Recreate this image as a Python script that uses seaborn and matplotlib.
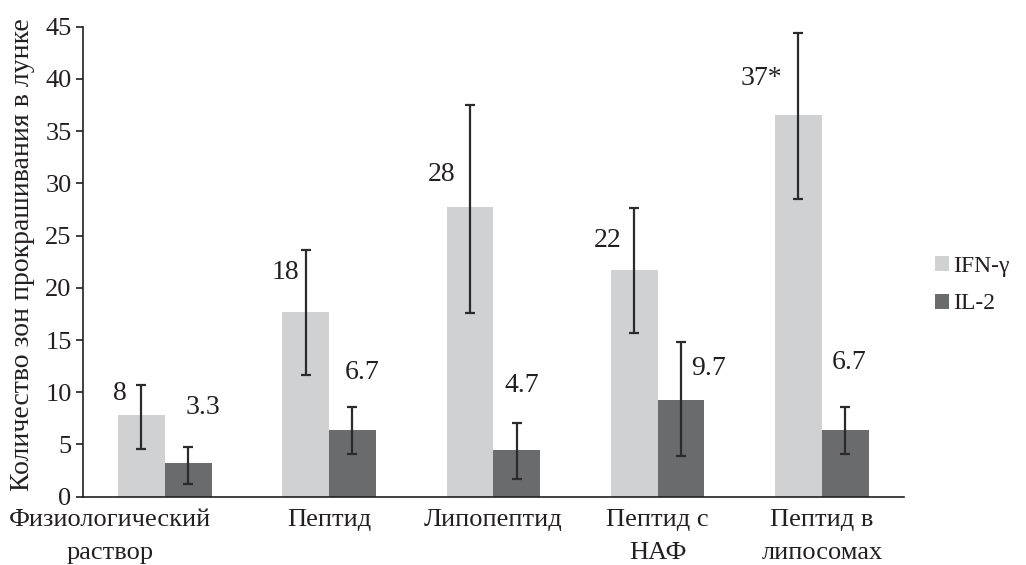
import pandas as pd
import seaborn as sns
import matplotlib.pyplot as plt
from matplotlib.transforms import ScaledTranslation

# Данные
groups = ['Физиологический\nраствор', 'Пептид', 'Липопептид', 'Пептид с\nНАФ', 'Пептид в\nлипосомах']
series = ['IFN-γ', 'IL-2']
ifn = [7.8, 17.7, 27.7, 21.7, 36.5]
il2 = [3.2, 6.4, 4.5, 9.3, 6.4]
ifn_lo = [4.6, 11.7, 17.6, 15.7, 28.5]
ifn_hi = [10.7, 23.6, 37.5, 27.6, 44.4]
il2_lo = [1.2, 4.1, 1.7, 3.9, 4.1]
il2_hi = [4.8, 8.6, 7.1, 14.8, 8.6]
ifn_labels = ['8', '18', '28', '22', '37*']
il2_labels = ['3.3', '6.7', '4.7', '9.7', '6.7']

# Смещения подписей (в пикселях) относительно вершины столбика
ifn_off = [(-22, 22), (-20, 39), (-28, 33), (-27, 30), (-37, 37)]
il2_off = [(15, 56), (10, 57), (5, 64), (27, 31), (4, 67)]

df = pd.DataFrame({
    'Group': groups * 2,
    'Series': [series[0]] * 5 + [series[1]] * 5,
    'Value': ifn + il2,
})

sns.set_style('white')
plt.rcParams['font.family'] = ['Liberation Serif', 'DejaVu Serif']
plt.rcParams['text.color'] = '#231f20'
plt.rcParams['axes.labelcolor'] = '#231f20'
plt.rcParams['xtick.color'] = '#231f20'
plt.rcParams['ytick.color'] = '#231f20'

fig = plt.figure(figsize=(10.26, 5.65), dpi=100)
ax = fig.add_axes([0.0806, 0.1209, 0.8005, 0.8318])

sns.barplot(data=df, x='Group', y='Value', hue='Series', order=groups, hue_order=series,
            palette=['#d0d1d3', '#6a6b6d'], width=0.57, errorbar=None, ax=ax,
            saturation=1, linewidth=0)

# Асимметричные планки погрешностей + подписи
err = [(ifn, ifn_lo, ifn_hi, ifn_labels, ifn_off), (il2, il2_lo, il2_hi, il2_labels, il2_off)]
for cont, (vals, lo, hi, labs, offs) in zip(ax.containers, err):
    xs = [b.get_x() + b.get_width() / 2 for b in cont]
    yerr = [[v - l for v, l in zip(vals, lo)], [h - v for v, h in zip(vals, hi)]]
    ax.errorbar(xs, vals, yerr=yerr, fmt='none', ecolor='#2b2b2b', elinewidth=1.6,
                capsize=3.5, capthick=1.6)
    for x, v, t, (dx, dy) in zip(xs, vals, labs, offs):
        ax.annotate(t, xy=(x, v), xytext=(dx, dy), textcoords='offset pixels',
                    ha='center', va='center', fontsize=20)

ax.set_ylim(0, 45)
ax.set_yticks(range(0, 46, 5))
ax.set_xlim(-0.5, 4.5)
ax.set_xticks([i + 0.5 for i in range(-1, 5)], minor=True)
ax.tick_params(axis='x', which='major', length=0, pad=9, labelsize=19)
ax.tick_params(axis='x', which='minor', direction='in', length=8, width=1.2)
ax.tick_params(axis='y', direction='out', length=5, width=1.2, labelsize=19, pad=3, left=True)
for lbl in ax.get_xticklabels():
    lbl.set_linespacing(1.62)
first = ax.get_xticklabels()[0]
first.set_transform(first.get_transform() + ScaledTranslation(-0.55, 0, fig.dpi_scale_trans))

sns.despine(ax=ax)
for s in ['left', 'bottom']:
    ax.spines[s].set_linewidth(1.2)
    ax.spines[s].set_color('#231f20')

ax.set_xlabel('')
ax.set_ylabel('Количество зон прокрашивания в лунке', fontsize=20)
ax.yaxis.set_label_coords(-0.058, 0.515)

sns.move_legend(ax, 'center left', bbox_to_anchor=(1.012, 0.45), frameon=False, title=None,
                fontsize=17, handlelength=0.6, handleheight=0.6, handletextpad=0.15,
                labelspacing=0.7)

plt.savefig('out.png', dpi=100)
